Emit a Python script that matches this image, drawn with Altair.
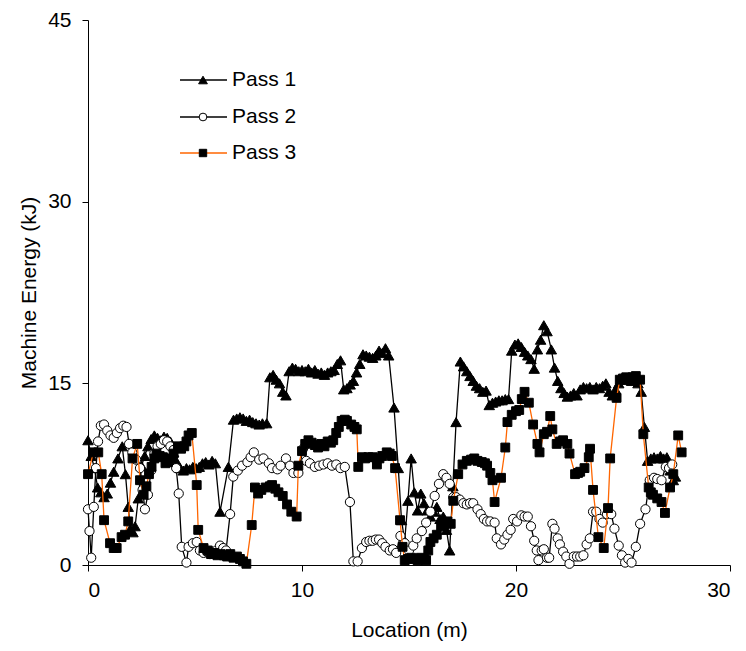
import altair as alt
import pandas as pd

# Location (m), Machine Energy (kJ)
pass1 = [(0.0,10.3),(0.15,9.0),(0.3,8.0),(0.45,6.4),(0.6,6.0),(0.75,5.6),(0.9,5.9),(1.05,6.8),(1.2,7.7),(1.4,8.8),(1.6,9.8),(1.75,7.5),(1.88,4.8),(1.98,3.0),(2.1,2.7),(2.2,3.2),(2.35,5.5),(2.5,8.2),(2.65,9.0),(2.8,9.8),(2.95,10.4),(3.1,10.7),(3.25,10.5),(3.4,10.3),(3.55,10.6),(3.7,10.5),(3.85,10.2),(4.0,9.3),(4.15,8.5),(4.3,8.0),(4.45,7.8),(4.6,8.0),(4.75,7.9),(4.9,8.1),(5.05,8.0),(5.2,8.1),(5.35,8.4),(5.5,8.5),(5.65,8.3),(5.8,8.6),(5.95,8.4),(6.17,4.4),(6.56,8.1),(6.8,12.0),(6.95,12.1),(7.1,12.2),(7.25,12.1),(7.4,11.9),(7.55,12.0),(7.7,11.8),(7.85,11.7),(8.0,11.6),(8.15,11.7),(8.35,11.7),(8.5,15.5),(8.65,15.7),(8.8,15.3),(8.95,15.0),(9.1,14.3),(9.25,14.0),(9.4,16.0),(9.55,16.3),(9.7,16.2),(9.85,16.0),(10.0,16.1),(10.15,16.0),(10.3,16.2),(10.45,15.9),(10.6,16.1),(10.75,15.8),(10.9,15.9),(11.05,15.7),(11.2,15.9),(11.35,16.0),(11.5,16.1),(11.65,16.6),(11.8,16.9),(11.95,14.5),(12.1,14.6),(12.25,14.9),(12.4,15.2),(12.55,15.9),(12.7,16.6),(12.85,17.4),(13.0,17.3),(13.15,17.2),(13.3,17.1),(13.45,17.3),(13.6,17.7),(13.75,17.5),(13.9,17.9),(14.05,17.3),(14.3,13.0),(14.5,8.0),(14.65,3.7),(14.8,2.0),(14.95,5.3),(15.1,8.8),(15.25,6.0),(15.4,4.5),(15.55,5.9),(15.7,5.1),(15.85,4.5),(16.0,4.0),(16.15,4.4),(16.3,4.8),(16.45,3.8),(16.6,4.0),(16.75,2.9),(16.9,1.2),(17.05,6.5),(17.2,11.8),(17.4,16.8),(17.55,16.4),(17.7,16.0),(17.85,15.6),(18.0,15.2),(18.15,14.8),(18.3,14.6),(18.45,14.3),(18.6,14.4),(18.75,13.2),(18.9,13.4),(19.05,13.5),(19.2,13.6),(19.35,13.6),(19.5,13.7),(19.65,13.7),(19.8,17.7),(19.95,18.2),(20.1,18.3),(20.25,18.0),(20.4,17.6),(20.55,17.3),(20.7,17.0),(20.85,16.2),(21.0,17.8),(21.15,18.6),(21.3,19.8),(21.45,19.3),(21.65,17.8),(21.8,16.3),(21.95,15.2),(22.1,14.6),(22.25,14.2),(22.4,13.9),(22.55,14.0),(22.7,14.2),(22.85,14.0),(23.0,14.5),(23.15,14.7),(23.3,14.6),(23.45,14.7),(23.6,14.5),(23.75,14.7),(23.9,14.6),(24.05,14.8),(24.2,15.0),(24.35,14.3),(24.5,14.0),(24.65,14.5),(24.8,15.0),(24.95,15.3),(25.1,15.3),(25.25,15.4),(25.4,15.2),(25.55,15.4),(25.7,15.0),(25.85,14.3),(26.0,11.4),(26.15,8.6),(26.3,8.8),(26.45,8.9),(26.6,8.8),(26.75,9.0),(26.9,8.8),(27.05,8.9),(27.2,7.8),(27.35,7.0),(27.45,7.3)]

pass2 = [(0.0,4.6),(0.07,2.8),(0.15,0.6),(0.27,4.8),(0.37,8.0),(0.47,10.2),(0.6,11.5),(0.75,11.6),(0.9,11.1),(1.05,10.7),(1.2,10.5),(1.35,10.9),(1.5,11.3),(1.65,11.5),(1.8,11.4),(1.92,10.0),(2.07,9.3),(2.25,8.7),(2.43,8.0),(2.55,6.2),(2.66,4.6),(2.8,5.8),(2.95,7.8),(3.1,9.2),(3.25,9.8),(3.4,10.0),(3.55,10.3),(3.7,10.2),(3.85,9.8),(4.0,9.5),(4.12,8.0),(4.24,5.9),(4.38,1.5),(4.6,0.2),(4.7,1.5),(4.9,1.8),(5.08,1.9),(5.23,1.2),(5.4,1.0),(5.55,1.1),(5.7,0.9),(5.85,1.0),(6.0,1.2),(6.17,1.6),(6.32,1.4),(6.45,1.2),(6.64,4.2),(6.79,7.3),(7.0,7.8),(7.2,8.2),(7.45,8.5),(7.6,8.9),(7.75,9.3),(8.0,8.7),(8.2,8.8),(8.45,8.4),(8.6,8.0),(8.85,7.9),(9.0,8.2),(9.25,8.8),(9.44,8.2),(9.6,7.6),(9.83,7.6),(10.05,9.6),(10.2,8.6),(10.37,8.4),(10.6,8.1),(10.8,8.2),(11.0,8.3),(11.2,8.4),(11.4,8.2),(11.6,8.3),(11.8,8.0),(12.0,8.1),(12.24,5.2),(12.4,0.3),(12.6,0.3),(12.8,1.4),(13.0,1.9),(13.15,2.0),(13.3,2.0),(13.45,2.1),(13.6,2.1),(13.75,1.8),(13.9,1.5),(14.1,1.2),(14.25,1.3),(14.4,1.0),(14.6,2.4),(14.8,1.8),(15.0,1.2),(15.2,1.6),(15.36,2.2),(15.6,2.8),(15.8,3.5),(16.0,4.4),(16.2,5.7),(16.4,6.7),(16.6,7.5),(16.75,7.2),(16.9,6.7),(17.07,5.6),(17.2,5.6),(17.37,5.4),(17.54,5.1),(17.7,5.0),(17.85,5.1),(18.0,5.1),(18.2,4.6),(18.35,4.2),(18.5,3.8),(18.65,3.6),(18.8,3.6),(19.0,3.5),(19.1,2.2),(19.3,1.7),(19.45,2.1),(19.6,2.5),(19.75,2.9),(19.87,3.8),(20.05,3.6),(20.25,4.1),(20.4,4.0),(20.55,4.0),(20.7,3.2),(20.85,2.0),(20.97,1.2),(21.05,0.4),(21.2,1.2),(21.3,1.3),(21.45,0.6),(21.55,0.6),(21.7,3.4),(21.8,3.0),(21.95,2.2),(22.05,1.7),(22.2,1.1),(22.35,0.7),(22.5,0.1),(22.7,0.7),(22.85,0.7),(23.0,0.7),(23.15,0.8),(23.3,1.7),(23.45,2.2),(23.6,4.4),(23.75,4.4),(23.9,3.8),(24.05,3.5),(24.25,4.2),(24.45,4.2),(24.6,3.0),(24.8,1.6),(24.95,0.8),(25.1,0.2),(25.25,0.5),(25.4,0.2),(25.6,1.5),(25.8,3.4),(26.05,4.6),(26.25,7.0),(26.45,7.2),(26.6,7.1),(26.8,7.0),(27.0,8.1),(27.15,8.0),(27.3,8.3)]

pass3 = [(0.0,7.5),(0.25,9.3),(0.48,9.3),(0.64,7.5),(0.75,3.7),(1.03,1.8),(1.2,1.4),(1.34,1.4),(1.57,2.3),(1.73,2.5),(1.88,3.6),(2.08,8.8),(2.3,10.0),(2.43,7.0),(2.6,5.8),(2.73,6.5),(2.85,7.5),(2.97,8.1),(3.1,8.8),(3.2,9.2),(3.35,9.0),(3.5,8.9),(3.62,8.4),(3.74,8.5),(3.87,8.8),(4.0,9.2),(4.2,9.8),(4.35,9.6),(4.5,9.8),(4.6,10.2),(4.7,10.7),(4.85,10.9),(5.08,6.6),(5.15,2.9),(5.4,1.4),(5.6,1.2),(5.75,0.9),(5.9,1.0),(6.05,0.8),(6.2,0.9),(6.35,0.8),(6.5,0.7),(6.65,0.9),(6.8,0.6),(6.96,0.7),(7.1,0.5),(7.24,0.3),(7.4,0.1),(7.65,3.3),(7.8,6.4),(7.95,5.9),(8.1,6.2),(8.3,6.4),(8.5,6.5),(8.6,6.6),(8.75,6.3),(8.9,6.0),(9.1,5.7),(9.3,5.0),(9.5,4.4),(9.75,4.0),(9.83,8.2),(10.0,9.4),(10.15,10.0),(10.3,10.3),(10.45,10.1),(10.6,9.9),(10.75,9.7),(10.9,10.0),(11.05,9.8),(11.2,10.2),(11.35,10.1),(11.46,10.3),(11.6,10.9),(11.72,11.4),(11.85,11.9),(12.0,12.0),(12.1,11.9),(12.3,11.6),(12.45,11.4),(12.56,11.2),(12.63,8.1),(12.8,8.9),(12.95,8.8),(13.1,8.9),(13.3,8.9),(13.5,8.3),(13.62,8.8),(13.75,9.0),(13.96,9.3),(14.1,9.2),(14.2,9.0),(14.35,8.0),(14.58,3.7),(14.7,1.5),(14.8,0.4),(14.95,0.5),(15.1,0.6),(15.25,0.5),(15.4,0.4),(15.55,0.6),(15.7,0.5),(15.8,0.4),(15.9,1.2),(16.0,1.9),(16.15,2.2),(16.3,2.5),(16.5,3.2),(16.65,3.4),(16.8,3.6),(16.95,3.4),(17.07,5.3),(17.3,7.5),(17.5,8.3),(17.7,8.6),(17.9,8.7),(18.05,8.8),(18.2,8.6),(18.4,8.5),(18.55,8.4),(18.65,8.2),(18.8,7.6),(18.9,7.0),(19.0,5.2),(19.3,7.2),(19.5,9.7),(19.6,11.8),(19.8,12.4),(20.0,12.7),(20.15,12.8),(20.27,13.7),(20.4,14.3),(20.6,13.4),(20.8,11.6),(21.0,10.0),(21.1,9.3),(21.3,10.8),(21.45,11.0),(21.6,12.3),(21.7,11.2),(21.9,10.0),(22.06,10.2),(22.2,10.3),(22.4,10.0),(22.5,9.2),(22.76,7.5),(22.9,7.6),(23.0,7.7),(23.2,8.0),(23.4,8.9),(23.46,9.6),(23.6,6.2),(23.85,2.3),(24.1,1.4),(24.3,4.7),(24.4,8.8),(24.7,13.8),(24.85,15.3),(25.0,15.4),(25.15,15.5),(25.3,15.4),(25.45,15.5),(25.6,15.6),(25.8,15.3),(25.95,10.8),(26.2,6.4),(26.3,6.0),(26.4,5.8),(26.6,5.5),(26.8,5.2),(26.96,4.3),(27.2,6.4),(27.35,7.5),(27.58,10.7),(27.74,9.3)]

series_names = ["Pass 1", "Pass 2", "Pass 3"]
x_ticks = [0, 10, 20, 30]
y_ticks = [0, 15, 30, 45]

FONT = "Liberation Sans"
FS = 21
W, H = 642, 545

styles = {
    "Pass 1": dict(line="#000000", shape="triangle-up", fill="#000000", size=110),
    "Pass 2": dict(line="#000000", shape="circle", fill="#ffffff", size=85),
    "Pass 3": dict(line="#FF6600", shape="square", fill="#000000", size=78),
}

xs = alt.X("loc:Q", scale=alt.Scale(domain=[0, 30], nice=False),
           axis=alt.Axis(values=x_ticks, title="Location (m)", grid=False,
                         tickSize=6, labelPadding=8, titlePadding=19))
ys = alt.Y("e:Q", scale=alt.Scale(domain=[0, 45], nice=False),
           axis=alt.Axis(values=y_ticks, title="Machine Energy (kJ)", grid=False,
                         tickSize=6, labelPadding=11, titlePadding=8))

layers = []
for name, data in zip(series_names, [pass1, pass2, pass3]):
    df = pd.DataFrame(data, columns=["loc", "e"])
    st = styles[name]
    base = alt.Chart(df)
    layers.append(base.mark_line(color=st["line"], strokeWidth=1.3).encode(x=xs, y=ys, order="loc:Q"))
    layers.append(base.mark_point(shape=st["shape"], filled=True, fill=st["fill"],
                                  stroke="#000000", strokeWidth=1.0, size=st["size"],
                                  opacity=1).encode(x="loc:Q", y="e:Q"))

# manual legend (pixel layout inside plot area)
leg_rows = [60, 97, 133]
one = pd.DataFrame({"a": [0]})
for name, yy in zip(series_names, leg_rows):
    st = styles[name]
    layers.append(alt.Chart(one).mark_rule(color=st["line"], strokeWidth=1.3).encode(
        x=alt.value(92), x2=alt.value(139), y=alt.value(yy)))
    layers.append(alt.Chart(one).mark_point(shape=st["shape"], filled=True, fill=st["fill"],
                                            stroke="#000000", strokeWidth=1.0,
                                            size=st["size"] * 0.7, opacity=1).encode(
        x=alt.value(115), y=alt.value(yy)))
    layers.append(alt.Chart(one).mark_text(text=name, align="left", baseline="middle",
                                           font=FONT, fontSize=FS, color="#000000").encode(
        x=alt.value(144), y=alt.value(yy)))

chart = alt.layer(*layers).properties(
    width=W, height=H, padding={"left": 80, "top": 12, "right": 8, "bottom": 78},
    autosize=alt.AutoSizeParams(type="none"), background="#ffffff"
).configure_view(stroke=None).configure_axis(
    domainColor="#000000", tickColor="#000000", labelColor="#000000", titleColor="#000000",
    labelFont=FONT, titleFont=FONT, labelFontSize=FS, titleFontSize=FS,
    titleFontWeight="normal", domainWidth=1, tickWidth=1
)

chart.save("out.html", embed_options={"renderer": "svg", "actions": False})
